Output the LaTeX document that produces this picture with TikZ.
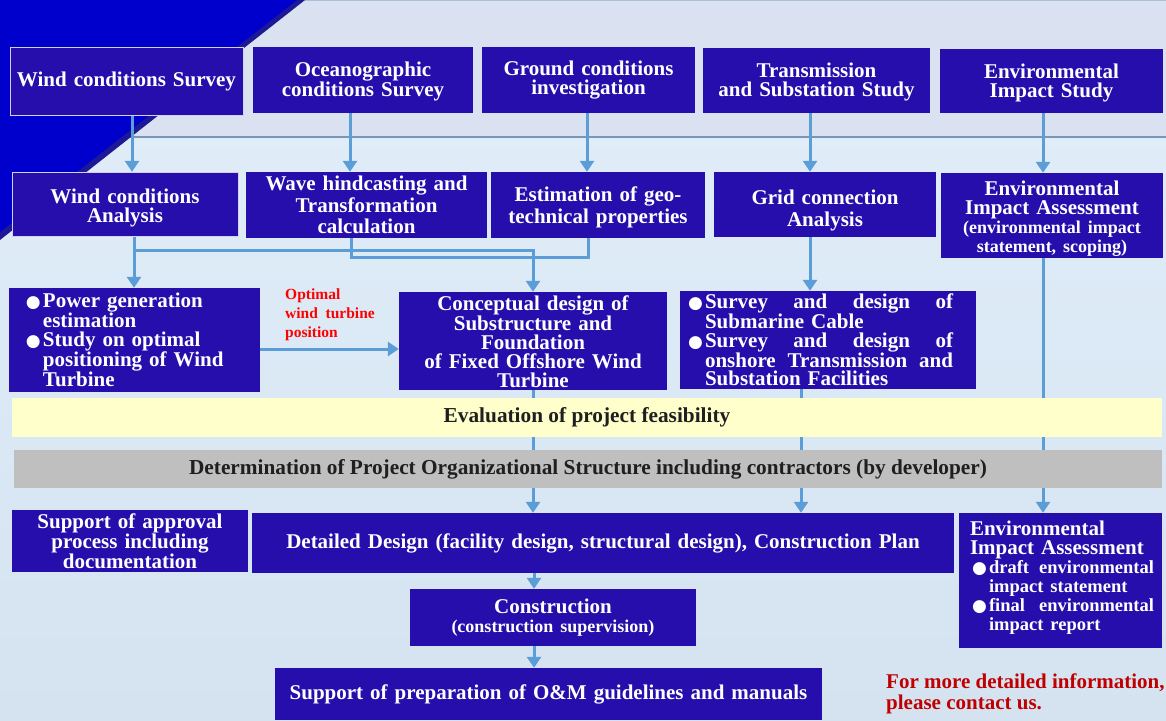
\documentclass[tikz,border=0pt]{standalone}
\usepackage{fontspec}
\setmainfont{Liberation Serif}
\newfontfamily\dotfont{DejaVu Sans}
\usetikzlibrary{arrows.meta}

\definecolor{boxblue}{RGB}{38,14,172}
\definecolor{cornerblue}{RGB}{0,0,204}
\definecolor{cornershade}{RGB}{28,24,150}
\definecolor{flowblue}{RGB}{91,157,214}
\definecolor{bandtop}{RGB}{218,226,242}
\definecolor{bandline}{RGB}{120,150,185}
\definecolor{skyhigh}{RGB}{226,239,250}
\definecolor{skylow}{RGB}{213,227,241}
\definecolor{bandyellow}{RGB}{255,255,204}
\definecolor{bandgray}{RGB}{191,191,191}
\definecolor{contactred}{RGB}{192,0,0}

\newcommand{\bul}{\makebox[17pt][l]{\fontsize{17}{17}\dotfont ●}}
% a line spread over the given width
\newcommand{\spread}[2]{{\spaceskip=0pt\xspaceskip=0pt\makebox[#1][s]{#2}}}
% extra room above a first line / below a last line
\newcommand{\lift}[1]{\rule{0pt}{#1}}
\newcommand{\sink}[1]{\rule[-#1]{0pt}{#1}}
\newcommand{\subline}{\fontsize{18}{19}\selectfont}

\pgfdeclarelayer{back}
\pgfdeclarelayer{lines}
\pgfsetlayers{back,lines,main}

\tikzset{
  bluebox/.style={fill=boxblue, text=white, inner sep=0pt, align=center,
    font=\fontsize{21}{19}\selectfont\bfseries},
  bandbox/.style={inner sep=0pt, text=black!88, font=\fontsize{21.3}{20}\selectfont\bfseries},
  flow/.style={draw=flowblue, line width=3pt, -{Triangle[width=14pt,length=11pt]}},
  link/.style={draw=flowblue, line width=3pt},
  note/.style={inner sep=0pt, align=left, font=\bfseries}
}

\begin{document}
\begin{tikzpicture}[x=1pt,y=-1pt]
\useasboundingbox (0,0) rectangle (1166,720);

% background of the slide
\begin{pgfonlayer}{back}
\shade[top color=skyhigh, bottom color=skylow] (0,0) rectangle (1166,720);
\fill[bandtop] (0,0) rectangle (1166,137);
\draw[bandline!60, line width=1pt] (0,0.5) -- (1166,0.5);
\draw[bandline, line width=2pt] (0,137) -- (1166,137);
\fill[cornershade] (0,0) -- (305,0) -- (0,240) -- cycle;
\fill[cornerblue] (0,0) -- (297,0) -- (0,232) -- cycle;
\end{pgfonlayer}

% surveys
\node[bluebox, draw=white!80!boxblue, text width=233pt, minimum height=68pt] (windsurvey) at (126.5,81) {Wind conditions Survey};
\node[bluebox, text width=220pt, minimum height=66pt] (oceansurvey) at (363,80) {\lift{18pt}Oceanographic\\conditions Survey};
\node[bluebox, text width=213pt, minimum height=66pt] (groundinv) at (588.5,80) {Ground conditions\\investigation};
\node[bluebox, text width=227pt, minimum height=65pt] (transstudy) at (816.5,80.5) {\lift{18pt}Transmission\\and Substation Study};
\node[bluebox, text width=223pt, minimum height=64pt] (envstudy) at (1051.5,81) {\lift{18pt}Environmental\\Impact Study};

% analyses
\node[bluebox, draw=white!80!boxblue, text width=226pt, minimum height=64pt] (windana) at (125,204) {\lift{23pt}Wind conditions\\Analysis};
\node[bluebox, text width=241pt, minimum height=66pt, font=\fontsize{21}{21.5}\selectfont\bfseries] (wavecalc) at (366.5,205) {Wave hindcasting and\\Transformation\\calculation};
\node[bluebox, text width=214pt, minimum height=66pt, font=\fontsize{21}{22}\selectfont\bfseries] (geotech) at (598,205) {\lift{19pt}Estimation of geo-\\technical properties};
\node[bluebox, text width=222pt, minimum height=65pt, font=\fontsize{21}{22}\selectfont\bfseries] (gridana) at (825,204.5) {\lift{27pt}Grid connection\\Analysis};
\node[bluebox, text width=222pt, minimum height=85pt] (envassess) at (1052,215.5) {\lift{20pt}Environmental\\Impact Assessment\\{\subline (environmental impact\\statement, scoping)}};

% design
\node[bluebox, text width=251pt, minimum height=104pt, align=left, font=\fontsize{21}{18.75}\selectfont\bfseries] (powergen) at (134.5,340)
  {\hspace*{17pt}\bul Power generation\\
   \hspace*{34pt}estimation\\
   \hspace*{17pt}\bul Study on optimal\\
   \hspace*{34pt}positioning of Wind\\
   \hspace*{34pt}Turbine};
\node[bluebox, text width=268pt, minimum height=98pt] (concept) at (533,341) {\lift{17pt}Conceptual design of\\Substructure and\\Foundation\\of Fixed Offshore Wind\\Turbine};
\node[bluebox, text width=296pt, minimum height=98pt, align=left, font=\fontsize{21}{18.5}\selectfont\bfseries] (cable) at (828,340)
  {\hspace*{8pt}\bul\spread{248pt}{Survey and design of}\\
   \hspace*{25pt}Submarine Cable\\
   \hspace*{8pt}\bul\spread{248pt}{Survey and design of}\\
   \hspace*{25pt}\spread{248pt}{onshore Transmission and}\\
   \hspace*{25pt}Substation Facilities};
\node[note, text=red, font=\fontsize{15.5}{19}\selectfont\bfseries, anchor=west] (optpos) at (285,315) {Optimal\\wind~ turbine\\position};

% decision bands
\node[bandbox, fill=bandyellow, minimum width=1150pt, minimum height=39pt] (feasibility) at (587,417.5) {Evaluation of project feasibility};
\node[bandbox, fill=bandgray, minimum width=1148pt, minimum height=38pt] (organisation) at (588,469) {Determination of Project Organizational Structure including contractors (by developer)};

% execution
\node[bluebox, text width=236pt, minimum height=62pt] (approval) at (130,541) {Support of approval\\process including\\documentation};
\node[bluebox, text width=702pt, minimum height=60pt] (detailed) at (603,543) {Detailed Design (facility design, structural design), Construction Plan};
\node[bluebox, text width=203pt, minimum height=135pt, align=left] (envfinal) at (1060.5,580.5)
  {\hspace*{11pt}Environmental\\
   \hspace*{11pt}Impact Assessment\\
   \fontsize{18.5}{19}\selectfont
   \hspace*{13pt}\bul\spread{165pt}{draft environmental}\\
   \hspace*{30pt}impact statement\\
   \hspace*{13pt}\bul\spread{165pt}{final environmental}\\
   \hspace*{30pt}impact report\sink{9pt}};
\node[bluebox, text width=286pt, minimum height=57pt] (construction) at (553,617.5) {Construction\\{\subline (construction supervision)}};
\node[bluebox, text width=547pt, minimum height=52pt] (omguide) at (548.5,694) {Support of preparation of O\&M guidelines and manuals};
\node[note, text=contactred, font=\fontsize{21}{21}\selectfont\bfseries, anchor=west] (contact) at (886,694) {For more detailed information,\\please contact us.};

% connectors
\begin{pgfonlayer}{lines}
\foreach \from/\to/\x in {windsurvey/windana/132, oceansurvey/wavecalc/350, groundinv/geotech/587, transstudy/gridana/810, envstudy/envassess/1043}
  \draw[flow] (\x,0 |- \from.south) -- (\x,0 |- \to.north);
\coordinate (split) at (134,250);
\draw[flow] (split |- windana.south) -- (split |- powergen.north);
\draw[flow] (split) -| (concept.north);
\coordinate (waveturn) at (351,257);
\coordinate (geoturn) at (588,257);
\draw[link] (waveturn |- wavecalc.south) -- (waveturn) -- (geoturn) -- (geoturn |- geotech.south);
\draw[flow] (powergen.east |- 0,349) -- (concept.west |- 0,349);
\draw[flow] (810,0 |- gridana.south) -- (810,0 |- cable.north);
\draw[flow] (1043,0 |- envassess.south) -- (1043,0 |- envfinal.north);
\draw[flow] (concept.south) -- (concept.south |- detailed.north);
\draw[flow] (801,0 |- cable.south) -- (801,0 |- detailed.north);
\draw[flow] (534,0 |- detailed.south) -- (534,0 |- construction.north);
\draw[flow] (534,0 |- construction.south) -- (534,0 |- omguide.north);
\end{pgfonlayer}
\end{tikzpicture}
\end{document}
